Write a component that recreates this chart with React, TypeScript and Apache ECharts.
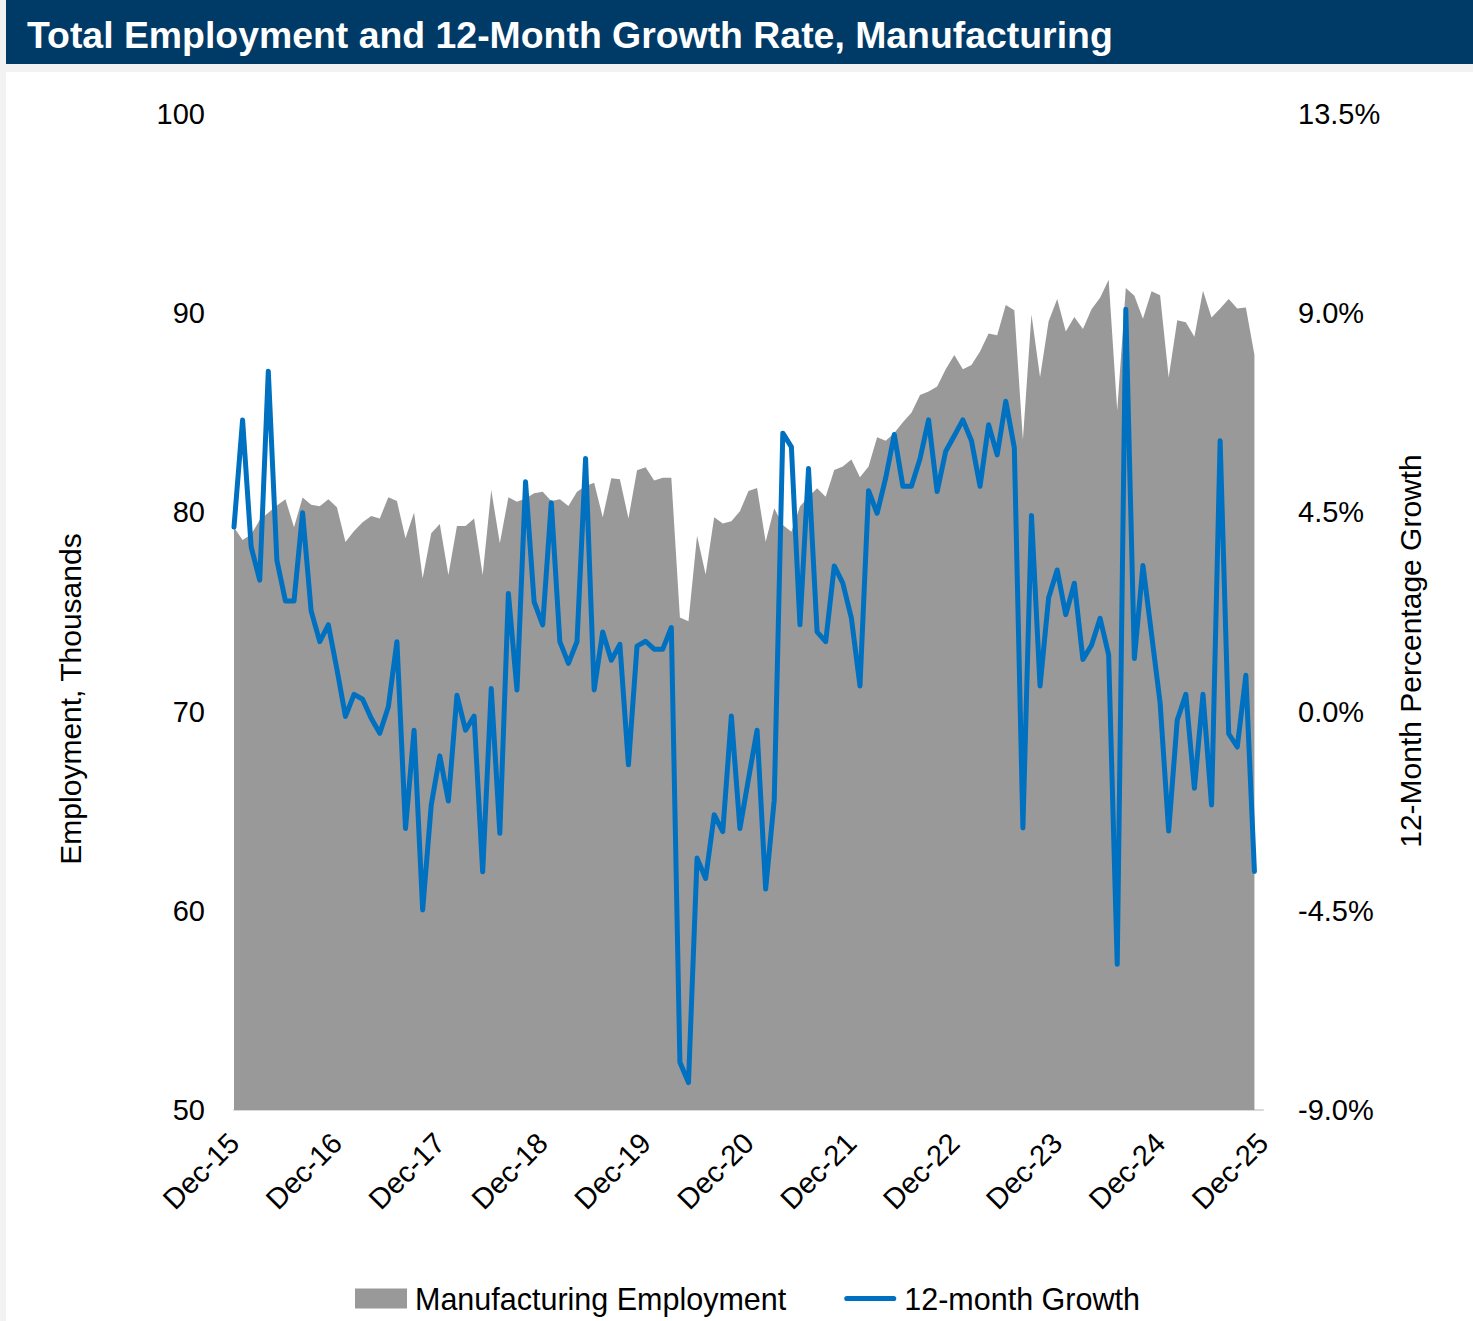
import React, { useEffect, useRef } from "react";
import * as echarts from "echarts";

const MONTHS = ["Jan", "Feb", "Mar", "Apr", "May", "Jun", "Jul", "Aug", "Sep", "Oct", "Nov", "Dec"];
// Monthly categories Dec-15 .. Dec-25 (data runs Dec-15 .. Nov-25)
const FIRST_MONTH = 11;
const FIRST_YEAR = 15;
const CATEGORY_COUNT = 121;
const categories: string[] = Array.from({ length: CATEGORY_COUNT }, (_, i) => {
  const m = (FIRST_MONTH + i) % 12;
  const y = FIRST_YEAR + Math.floor((FIRST_MONTH + i) / 12);
  return `${MONTHS[m]}-${y}`;
});

const employment2016 = [79.25, 78.61, 78.89, 79.62, 79.98, 80.35, 80.66, 79.25, 80.75, 80.39, 80.31, 80.66];
const employment2017 = [80.26, 78.52, 79.07, 79.5, 79.82, 79.7, 80.76, 80.57, 78.7, 79.99, 76.69, 78.95];
const employment2018 = [79.42, 76.86, 79.32, 79.32, 79.7, 76.86, 81.12, 78.45, 80.76, 80.54, 80.7, 80.96];
const employment2019 = [81.04, 80.57, 80.66, 80.32, 81.04, 81.33, 81.49, 79.76, 81.71, 81.66, 79.7, 82.11];
const employment2020 = [82.27, 81.6, 81.74, 81.74, 74.73, 74.53, 78.83, 76.88, 79.76, 79.44, 79.55, 80.06];
const employment2021 = [81.08, 81.23, 78.53, 80.21, 79.37, 79.03, 80.29, 80.79, 81.21, 80.79, 82.13, 82.3];
const employment2022 = [82.66, 81.76, 82.3, 83.77, 83.6, 83.99, 84.53, 85.0, 85.89, 86.07, 86.32, 87.18];
const employment2023 = [87.9, 87.18, 87.4, 88.08, 88.98, 88.89, 90.41, 90.15, 83.65, 89.93, 86.79, 89.6];
const employment2024 = [90.71, 89.08, 89.81, 89.21, 90.2, 90.78, 91.68, 85.11, 91.27, 90.87, 89.72, 91.1];
const employment2025 = [90.9, 86.77, 89.65, 89.55, 88.82, 91.13, 89.78, 90.23, 90.71, 90.23, 90.28, 87.92];

const growth2016 = [4.17, 6.59, 3.72, 2.97, 7.69, 3.42, 2.5, 2.5, 4.49, 2.27, 1.58, 1.96];
const growth2017 = [0.96, -0.11, 0.39, 0.28, -0.15, -0.49, 0.11, 1.58, -2.64, -0.42, -4.48, -2.11];
const growth2018 = [-1.0, -2.02, 0.37, -0.42, -0.1, -3.62, 0.52, -2.75, 2.67, 0.49, 5.19, 2.48];
const growth2019 = [1.96, 4.72, 1.58, 1.09, 1.58, 5.72, 0.49, 1.8, 1.16, 1.52, -1.2, 1.48];
const growth2020 = [1.59, 1.41, 1.41, 1.9, -7.92, -8.38, -3.31, -3.77, -2.33, -2.71, -0.1, -2.64];
const growth2021 = [-1.52, -0.42, -4.01, -2.0, 6.29, 5.98, 1.96, 5.49, 1.8, 1.58, 3.29, 2.9];
const growth2022 = [2.11, 0.58, 4.99, 4.48, 5.28, 6.26, 5.09, 5.09, 5.71, 6.59, 4.97, 5.88];
const growth2023 = [6.23, 6.59, 6.12, 5.09, 6.48, 5.8, 7.01, 5.96, -2.63, 4.43, 0.58, 2.57];
const growth2024 = [3.2, 2.19, 2.9, 1.18, 1.5, 2.11, 1.28, -5.71, 9.09, 1.2, 3.3, 1.75];
const growth2025 = [0.2, -2.7, -0.19, 0.39, -1.73, 0.39, -2.11, 6.12, -0.5, -0.8, 0.82, -3.61];

const employment = [
  ...employment2016, ...employment2017, ...employment2018, ...employment2019, ...employment2020,
  ...employment2021, ...employment2022, ...employment2023, ...employment2024, ...employment2025,
];
const growth = [
  ...growth2016, ...growth2017, ...growth2018, ...growth2019, ...growth2020,
  ...growth2021, ...growth2022, ...growth2023, ...growth2024, ...growth2025,
];

const TITLE = "Total Employment and 12-Month Growth Rate, Manufacturing";
const SERIES_AREA = "Manufacturing Employment";
const SERIES_LINE = "12-month Growth";
const LEFT_NAME = "Employment, Thousands";
const RIGHT_NAME = "12-Month Percentage Growth";

const FONT = "'Liberation Sans', Arial, sans-serif";

export default function App() {
  const ref = useRef<HTMLDivElement>(null);
  useEffect(() => {
    if (!ref.current) return;
    const chart = echarts.init(ref.current, null, { renderer: "svg" });
    chart.setOption({
      animation: false,
      backgroundColor: "#ffffff",
      textStyle: { fontFamily: FONT },
      grid: { left: 234, right: 210, top: 114, bottom: 211, containLabel: false },
      graphic: [
        { type: "rect", shape: { x: 0, y: 0, width: 6, height: 1321 }, style: { fill: "#f2f2f2" }, silent: true },
        { type: "rect", shape: { x: 6, y: 0, width: 1467, height: 64 }, style: { fill: "#003a66" }, silent: true },
        { type: "rect", shape: { x: 6, y: 64, width: 1467, height: 8 }, style: { fill: "#f2f2f2" }, silent: true },
        {
          type: "text", x: 27, y: 35,
          style: { text: TITLE, fill: "#ffffff", font: `bold 37.4px ${FONT}`, textAlign: "left", textVerticalAlign: "middle" },
          silent: true,
        },
        {
          type: "text", x: 70, y: 699, rotation: Math.PI / 2,
          style: { text: LEFT_NAME, fill: "#000000", font: `30px ${FONT}`, textAlign: "center", textVerticalAlign: "middle" },
          silent: true,
        },
        {
          type: "text", x: 1410, y: 651, rotation: Math.PI / 2,
          style: { text: RIGHT_NAME, fill: "#000000", font: `30px ${FONT}`, textAlign: "center", textVerticalAlign: "middle" },
          silent: true,
        },
      ],
      legend: {
        left: 355, top: 1283, padding: 0,
        itemWidth: 52, itemHeight: 20, itemGap: 58,
        textStyle: { fontSize: 30.5, color: "#000000", fontFamily: FONT, padding: [0, 0, 0, 3] },
        data: [
          { name: SERIES_AREA, icon: "rect" },
          { name: SERIES_LINE, icon: "path://M5,0 L95,0 A5,5 0 0 1 95,10 L5,10 A5,5 0 0 1 5,0 Z" },
        ],
      },
      xAxis: {
        type: "category",
        data: categories,
        boundaryGap: false,
        axisLine: { show: true, onZero: false, lineStyle: { color: "#d9d9d9", width: 2 } },
        axisTick: { show: false },
        axisLabel: { interval: 11, rotate: 45, fontSize: 29, color: "#000000", margin: 28, fontFamily: FONT },
        splitLine: { show: false },
      },
      yAxis: [
        {
          type: "value", min: 50, max: 100, interval: 10, position: "left",
          axisLine: { show: false }, axisTick: { show: false }, splitLine: { show: false },
          axisLabel: { fontSize: 29, color: "#000000", margin: 29, fontFamily: FONT },
        },
        {
          type: "value", min: -9, max: 13.5, interval: 4.5, position: "right",
          axisLine: { show: false }, axisTick: { show: false }, splitLine: { show: false },
          axisLabel: {
            fontSize: 29, color: "#000000", margin: 35, fontFamily: FONT,
            formatter: (v: number) => `${v.toFixed(1)}%`,
          },
        },
      ],
      series: [
        {
          name: SERIES_AREA, type: "line", yAxisIndex: 0, data: employment,
          symbol: "none", lineStyle: { width: 0 }, itemStyle: { color: "#999999" },
          areaStyle: { color: "#999999", opacity: 1, origin: "start" },
          z: 1,
        },
        {
          name: SERIES_LINE, type: "line", yAxisIndex: 1, data: growth,
          symbol: "none", itemStyle: { color: "#0070c0" },
          lineStyle: { color: "#0070c0", width: 5, cap: "round", join: "round" },
          z: 2,
        },
      ],
    });
    return () => chart.dispose();
  }, []);
  return <div ref={ref} style={{ position: "absolute", left: 0, top: 0, width: 1473, height: 1321 }} />;
}
